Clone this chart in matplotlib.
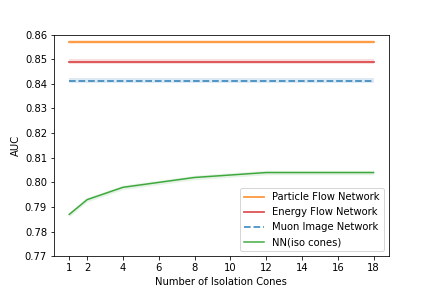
import numpy as np
import matplotlib
matplotlib.use("Agg")
import matplotlib.pyplot as plt

# Data
cones = [1, 2, 4, 6, 8, 10, 12, 14, 16, 18]
pfn_auc = 0.857
efn_auc = 0.849
muon_auc = 0.8413
nn_auc = [0.787, 0.793, 0.798, 0.800, 0.802, 0.803, 0.804, 0.804, 0.804, 0.804]
band = 0.0009
xticks = [1, 2, 4, 6, 8, 10, 12, 14, 16, 18]

x = np.array(cones)
fig, ax = plt.subplots(figsize=(6, 4), dpi=72)

for val, color, ls, label in [(pfn_auc, 'tab:orange', '-', 'Particle Flow Network'),
                              (efn_auc, 'tab:red', '-', 'Energy Flow Network'),
                              (muon_auc, 'tab:blue', '--', 'Muon Image Network')]:
    y = np.full(len(x), val)
    ax.plot(x, y, color=color, ls=ls, lw=1.8, alpha=0.8, label=label)
    ax.fill_between(x, y - band, y + band, color=color, alpha=0.15, lw=0)

nn = np.array(nn_auc)
ax.plot(x, nn, color='tab:green', lw=1.5, alpha=0.9, label='NN(iso cones)')
ax.fill_between(x, nn - band, nn + band, color='tab:green', alpha=0.12, lw=0)

ax.set_xticks(xticks)
ax.set_ylim(0.77, 0.86)
ax.set_xlabel('Number of Isolation Cones')
ax.set_ylabel('AUC')
ax.legend(loc='lower right')
fig.savefig('out.png')
